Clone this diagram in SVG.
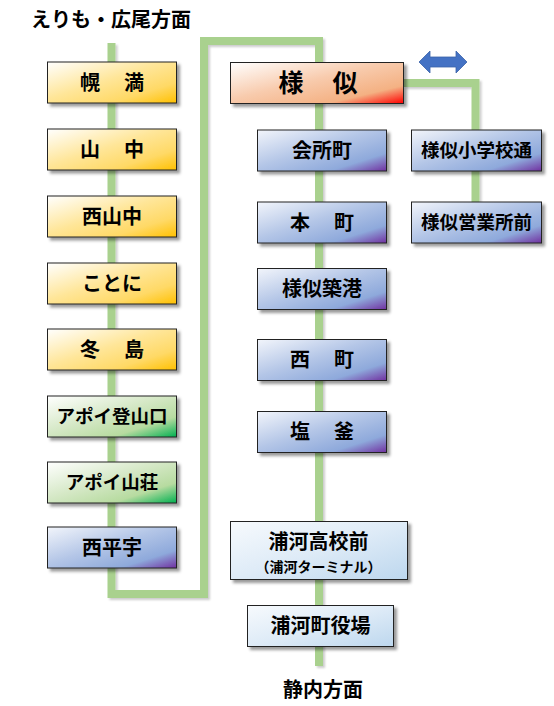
<svg xmlns="http://www.w3.org/2000/svg" width="554" height="706" viewBox="0 0 554 706">
<defs>
<linearGradient id="gy" x1="0" y1="0" x2="1" y2="1"><stop offset="0" stop-color="#FFFFFF"/><stop offset="0.45" stop-color="#FFE699"/><stop offset="0.75" stop-color="#FFD966"/><stop offset="1" stop-color="#FFC000"/></linearGradient>
<linearGradient id="gg" x1="0" y1="0" x2="1" y2="1"><stop offset="0" stop-color="#FFFFFF"/><stop offset="0.45" stop-color="#D5E8C6"/><stop offset="0.75" stop-color="#B7DBA0"/><stop offset="1" stop-color="#00B050"/></linearGradient>
<linearGradient id="gb" x1="0" y1="0" x2="1" y2="1"><stop offset="0" stop-color="#F2F5FB"/><stop offset="0.45" stop-color="#B4C6E7"/><stop offset="0.78" stop-color="#8EA9DB"/><stop offset="1" stop-color="#7030A0"/></linearGradient>
<linearGradient id="go" x1="0" y1="0" x2="1" y2="1"><stop offset="0" stop-color="#FFFFFF"/><stop offset="0.45" stop-color="#F8CBAD"/><stop offset="0.78" stop-color="#F4B183"/><stop offset="1" stop-color="#FF0000"/></linearGradient>
<linearGradient id="gl" x1="0" y1="0" x2="1" y2="1"><stop offset="0" stop-color="#F7FAFD"/><stop offset="0.5" stop-color="#DEEBF7"/><stop offset="1" stop-color="#BDD7EE"/></linearGradient>
<filter id="sh" x="-10%" y="-20%" width="130%" height="150%"><feDropShadow dx="3" dy="3" stdDeviation="1.5" flood-color="#000" flood-opacity="0.4"/></filter>
<filter id="lsh" x="-10%" y="-10%" width="130%" height="130%"><feDropShadow dx="2" dy="2" stdDeviation="1" flood-color="#000" flood-opacity="0.2"/></filter>
</defs>
<style>
.box{stroke:#222;stroke-width:1;filter:url(#sh)}
.y{fill:url(#gy)}.g{fill:url(#gg)}.b{fill:url(#gb)}.o{fill:url(#go)}.l{fill:url(#gl)}
text{font-family:"Noto Sans CJK JP","Noto Sans CJK SC",sans-serif;font-weight:700;fill:#000;text-anchor:middle}
.t{font-size:20px}
.w{letter-spacing:2px}
.s{font-size:18.5px}
.big{font-size:25px;letter-spacing:2px}
.sub{font-size:14px}
.line{fill:none;stroke:#A9D18E;stroke-width:8;stroke-linejoin:miter;filter:url(#lsh)}
</style>
<rect width="554" height="706" fill="#FFFFFF"/>
<text x="111" y="27" style="font-size:20px">えりも・広尾方面</text>
<text x="323" y="697" style="font-size:20px">静内方面</text>
<g id="connectors">
<path class="line" d="M111.5,43 V594 H204 V41 H319 V666"/>
<path class="line" d="M404,83 H475.5 V202"/>
<polygon points="419,62 430,51 430,57 456,57 456,51 467,62 456,73 456,67 430,67 430,73" fill="#4472C4" stroke="#3A62A8" stroke-width="0.8"/>
</g>
<g id="n-horoman"><rect class="box y" x="47.5" y="62" width="129" height="41"/><text class="t w" x="113" y="89.5">幌　満</text></g>
<g id="n-yamanaka"><rect class="box y" x="47.5" y="129" width="129" height="41"/><text class="t w" x="113" y="156.5">山　中</text></g>
<g id="n-nishiyamanaka"><rect class="box y" x="47.5" y="196" width="129" height="41"/><text class="t" x="112" y="223.5">西山中</text></g>
<g id="n-kotoni"><rect class="box y" x="47.5" y="263" width="129" height="41"/><text class="t" x="112" y="290.5">ことに</text></g>
<g id="n-fuyushima"><rect class="box y" x="47.5" y="329" width="129" height="41"/><text class="t w" x="113" y="356.5">冬　島</text></g>
<g id="n-apoi-tozanguchi"><rect class="box g" x="47.5" y="396" width="129" height="41"/><text class="s" x="112" y="423">アポイ登山口</text></g>
<g id="n-apoi-sanso"><rect class="box g" x="47.5" y="462" width="129" height="41"/><text class="s" x="112" y="489">アポイ山荘</text></g>
<g id="n-nishihorou"><rect class="box b" x="47.5" y="527" width="129" height="41"/><text class="t" x="112" y="554.5">西平宇</text></g>
<g id="n-samani"><rect class="box o" x="230.5" y="62.5" width="173" height="41"/><text class="big" x="319" y="92">様　似</text></g>
<g id="n-kaishomachi"><rect class="box b" x="257.5" y="130" width="129" height="41"/><text class="t" x="322" y="157.5">会所町</text></g>
<g id="n-honcho"><rect class="box b" x="257.5" y="202" width="129" height="41"/><text class="t w" x="323" y="229.5">本　町</text></g>
<g id="n-samani-chikko"><rect class="box b" x="257.5" y="268.5" width="129" height="41"/><text class="t" x="322" y="296">様似築港</text></g>
<g id="n-nishimachi"><rect class="box b" x="257.5" y="339.5" width="129" height="41"/><text class="t w" x="323" y="367">西　町</text></g>
<g id="n-shiogama"><rect class="box b" x="257.5" y="411.5" width="129" height="41"/><text class="t w" x="323" y="439">塩　釜</text></g>
<g id="n-urakawa-koko"><rect class="box l" x="230.5" y="521.5" width="177" height="58"/><text class="t" x="318.5" y="549">浦河高校前</text><text class="sub" x="318.5" y="572">（浦河ターミナル）</text></g>
<g id="n-urakawa-yakuba"><rect class="box l" x="247.5" y="605.5" width="146" height="41"/><text class="t" x="320.5" y="633">浦河町役場</text></g>
<g id="n-samani-shogakko"><rect class="box b" x="411.5" y="130" width="130" height="41"/><text class="s" x="476.5" y="157">様似小学校通</text></g>
<g id="n-samani-eigyosho"><rect class="box b" x="411.5" y="202" width="130" height="41"/><text class="s" x="476.5" y="229">様似営業所前</text></g>
</svg>
